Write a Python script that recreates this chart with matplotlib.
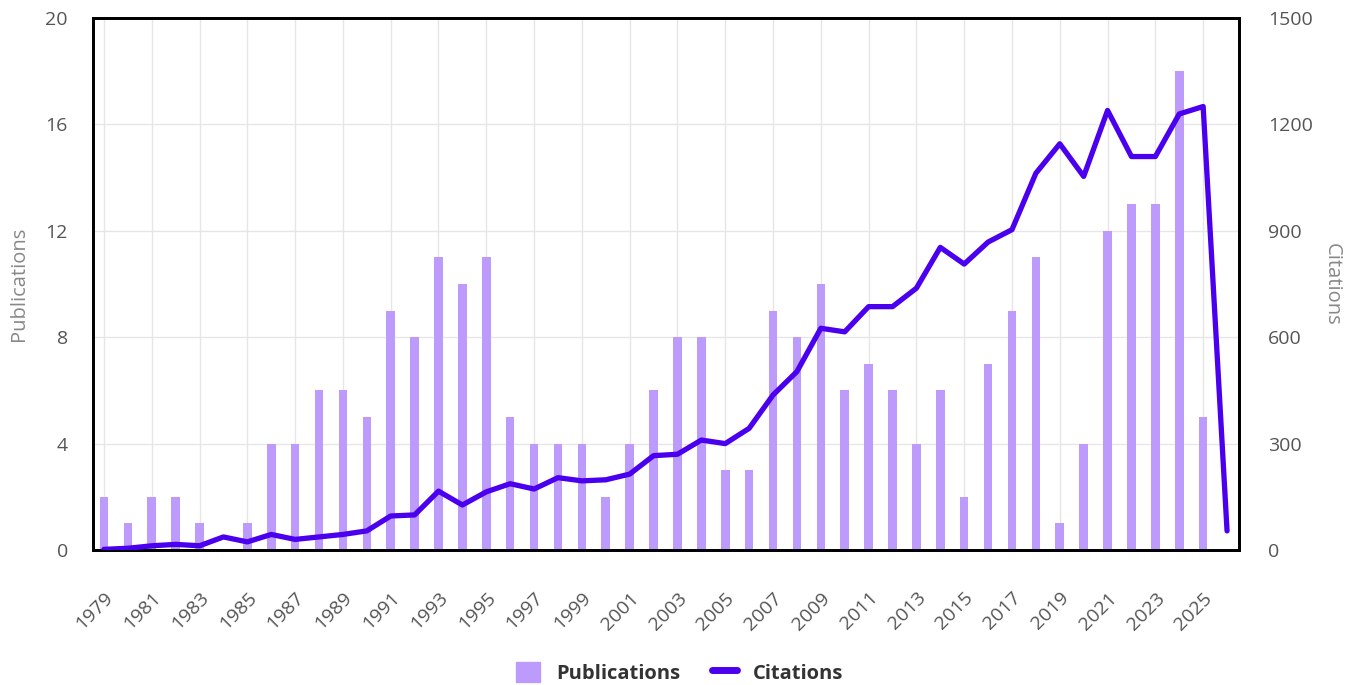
import numpy as np
import matplotlib
matplotlib.use("Agg")
from matplotlib import pyplot as plt
from matplotlib.patches import Patch
from matplotlib.lines import Line2D

years = list(range(1979, 2027))
publications = [2, 1, 2, 2, 1, 0, 1, 4, 4, 6, 6, 5, 9, 8, 11, 10, 11, 5, 4, 4,
                4, 2, 4, 6, 8, 8, 3, 3, 9, 8, 10, 6, 7, 6, 4, 6, 2, 7, 9, 11,
                1, 4, 12, 13, 13, 18, 5, 0]
citations = [2, 5, 12, 16, 12, 37, 23, 44, 30, 37, 44, 54, 96, 99, 166, 127,
             164, 187, 172, 204, 195, 198, 214, 266, 270, 310, 300, 343, 437,
             503, 625, 615, 686, 686, 738, 853, 806, 868, 903, 1062, 1145,
             1053, 1239, 1109, 1109, 1229, 1250, 54]
tick_years = list(range(1979, 2026, 2))

BAR_COLOR = "#bc9bfc"
LINE_COLOR = "#4a00ef"
TEXT_COLOR = "#555555"

plt.rcParams['font.family'] = ['Open Sans', 'DejaVu Sans']

fig = plt.figure(figsize=(13.59, 6.85), dpi=100)
ax = fig.add_axes([0.0684, 0.197, 0.8433, 0.777])
ax2 = ax.twinx()

x = np.arange(len(years))
ax.bar(x, publications, width=0.36, color=BAR_COLOR, zorder=2)
ax2.plot(x, citations, color=LINE_COLOR, linewidth=3.8,
         solid_joinstyle='round', solid_capstyle='round', zorder=3)

ax.set_xlim(-0.46, len(years) - 0.5)
ax.set_ylim(0, 20)
ax2.set_ylim(0, 1500)
ax.set_yticks(np.arange(0, 21, 4))
ax2.set_yticks(np.arange(0, 1501, 300))

tick_pos = [years.index(y) for y in tick_years]
ax.set_xticks(tick_pos)
ax.set_xticklabels([str(y) for y in tick_years], rotation=45, ha='right',
                   rotation_mode='anchor')

ax.grid(True, color="#e6e6e6", linewidth=1, zorder=0)
ax.set_axisbelow(True)

for a in (ax, ax2):
    a.tick_params(length=0, labelsize=14, colors=TEXT_COLOR)
    for s in a.spines.values():
        s.set_color("black")
        s.set_linewidth(2)
ax.tick_params(axis='y', pad=18)
ax.tick_params(axis='x', pad=28)
ax2.tick_params(axis='y', pad=21)

ax.set_ylabel("Publications", color="#888888", fontsize=14.5, labelpad=12)
ax2.set_ylabel("Citations", color="#888888", fontsize=14.5, rotation=270,
               labelpad=21)

handles = [Patch(color=BAR_COLOR, label="Publications"),
           Line2D([0], [0], color=LINE_COLOR, linewidth=5, solid_capstyle='round',
                  label="Citations")]
fig.legend(handles=handles, loc='center', bbox_to_anchor=(0.5, 0.018),
           ncol=2, frameon=False, prop={'weight': 'bold', 'size': 14.5},
           labelcolor="#333333", handlelength=1.2, handleheight=1.2,
           columnspacing=1.6, handletextpad=0.8)

fig.savefig("out.png", dpi=100)
